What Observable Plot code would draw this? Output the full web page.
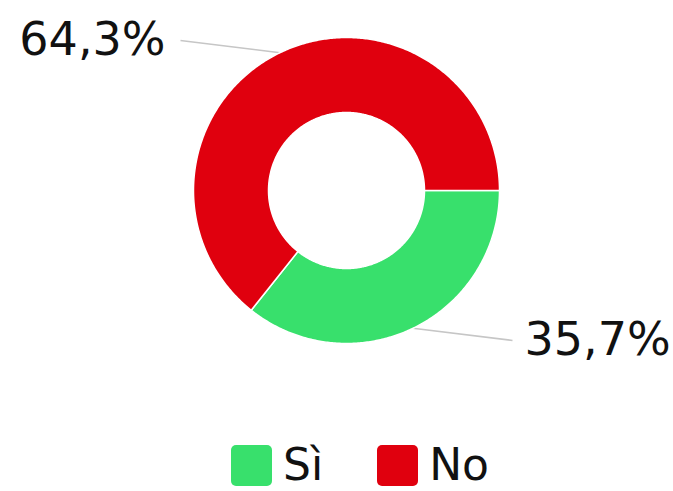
<!DOCTYPE html>
<html><head><meta charset="utf-8">
<script src="https://cdn.jsdelivr.net/npm/d3@7"></script>
<script src="https://cdn.jsdelivr.net/npm/@observablehq/plot@0.6"></script>
<style>
body{margin:0;background:#fff;overflow:hidden;font-family:"DejaVu Sans",sans-serif}
#legend{display:flex;align-items:flex-start;margin-left:231px;margin-top:3px;height:48px}
.item{display:flex;align-items:flex-start;margin-right:54px}
.sw{width:41px;height:41px;border-radius:5px;margin-top:2px;margin-right:11px}
.lab{font-size:44px;line-height:44px;color:#111}
</style>
</head><body><div id="chart"></div><div id="legend"></div><script>
const categories = ["Sì", "No"];
const values = [35.7, 64.3];
const labels = ["35,7%", "64,3%"];
const colors = ["#38e06c", "#e0000e"];

const W = 673, H = 440, R = 153, cx = 346, cy = 190, inner = 78 / 153;
const arcs = d3.pie().sort(null).startAngle(Math.PI / 2).endAngle(Math.PI / 2 + 2 * Math.PI)(values);

const poly = [];
arcs.forEach((a, i) => {
  const n = Math.max(2, Math.ceil((a.endAngle - a.startAngle) / 0.01));
  const pts = [];
  for (let k = 0; k <= n; k++) { const t = a.startAngle + (a.endAngle - a.startAngle) * k / n; pts.push([Math.sin(t), Math.cos(t)]); }
  for (let k = n; k >= 0; k--) { const t = a.startAngle + (a.endAngle - a.startAngle) * k / n; pts.push([inner * Math.sin(t), inner * Math.cos(t)]); }
  pts.push(pts[0]);
  pts.forEach(p => poly.push({x: p[0], y: p[1], cat: categories[i]}));
});

const leaders = [];
const lab = arcs.map((a, i) => {
  const m = (a.startAngle + a.endAngle) / 2;
  const s = Math.sign(Math.sin(m));
  const ex = s * 1.085, ey = Math.cos(m) * 1.088;
  leaders.push({x1: Math.sin(m), y1: Math.cos(m), x2: ex, y2: ey});
  return {x: ex, y: ey, text: labels[i], side: s};
});

const chart = Plot.plot({
  width: W, height: H, margin: 0,
  x: {domain: [-cx / R, (W - cx) / R], axis: null},
  y: {domain: [-(H - cy) / R, cy / R], axis: null},
  color: {domain: categories, range: colors},
  style: {fontFamily: "DejaVu Sans, sans-serif", background: "#fff"},
  marks: [
    Plot.link(leaders, {x1: "x1", y1: "y1", x2: "x2", y2: "y2", stroke: "#c6c6c6", strokeWidth: 1.6}),
    Plot.line(poly, {x: "x", y: "y", z: "cat", fill: "cat", stroke: "#fff", strokeWidth: 1.5, curve: "linear"}),
    Plot.text(lab.filter(d => d.side < 0), {x: "x", y: "y", text: "text", textAnchor: "end", dx: -15, fontSize: 46, fill: "#111"}),
    Plot.text(lab.filter(d => d.side > 0), {x: "x", y: "y", text: "text", textAnchor: "start", dx: 12, fontSize: 46, fill: "#111"})
  ]
});
document.getElementById("chart").appendChild(chart);

const lg = document.getElementById("legend");
categories.forEach((c, i) => {
  const it = document.createElement("div"); it.className = "item";
  const sw = document.createElement("div"); sw.className = "sw"; sw.style.background = colors[i];
  const t = document.createElement("span"); t.className = "lab"; t.textContent = c;
  it.appendChild(sw); it.appendChild(t); lg.appendChild(it);
});
</script></body></html>
